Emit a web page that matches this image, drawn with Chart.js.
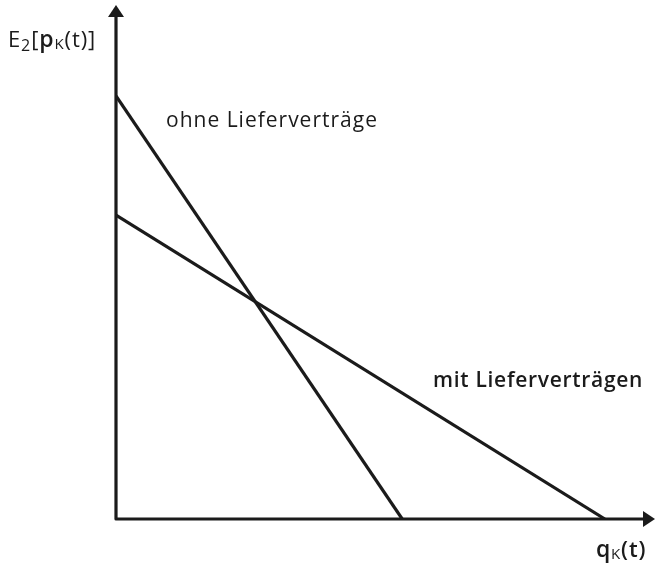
<!DOCTYPE html>
<html>
<head>
<meta charset="utf-8">
<script src="https://cdn.jsdelivr.net/npm/chart.js@4/dist/chart.umd.min.js"></script>
<style>
	html, body { margin: 0; padding: 0; background: #fff; }
	#wrap { width: 655px; height: 567px; }
</style>
</head>
<body>
<div id="wrap"><canvas id="demandChart" width="655" height="567"></canvas></div>
<script>
// Two demand lines (axis units 0..10)
var ohneX = [0, 5.31];
var ohneY = [8.23, 0];
var mitX = [0, 9.07];
var mitY = [5.91, 0];

var ink = '#1b1b1b';
var font = '"Open Sans", "DejaVu Sans", sans-serif';

function toPoints(xs, ys) {
	return xs.map(function (x, i) { return { x: x, y: ys[i] }; });
}

// draws a list of text runs one after another
function drawRuns(ctx, runs, x, y, spacing) {
	ctx.letterSpacing = (spacing || 0) + 'px';
	runs.forEach(function (r) {
		ctx.font = (r.w || (r.bold ? 600 : 500)) + ' ' + r.size + 'px ' + font;
		ctx.fillText(r.t, x, y + (r.dy || 0));
		x += ctx.measureText(r.t).width;
	});
	ctx.letterSpacing = '0px';
}

var axesPlugin = {
	id: 'axesPlugin',
	beforeDatasetsDraw: function (chart) {
		var ctx = chart.ctx;
		var a = chart.chartArea;
		ctx.save();
		ctx.strokeStyle = ink;
		ctx.fillStyle = ink;
		ctx.lineWidth = 3.2;
		ctx.lineJoin = 'round';
		// axes
		ctx.beginPath();
		ctx.moveTo(a.left, a.top + 8);
		ctx.lineTo(a.left, a.bottom);
		ctx.lineTo(a.right - 8, a.bottom);
		ctx.stroke();
		// arrow heads
		ctx.beginPath();
		ctx.moveTo(a.left, a.top);
		ctx.lineTo(a.left - 8, a.top + 12);
		ctx.lineTo(a.left + 8, a.top + 12);
		ctx.closePath();
		ctx.fill();
		ctx.beginPath();
		ctx.moveTo(a.right, a.bottom);
		ctx.lineTo(a.right - 12, a.bottom - 8);
		ctx.lineTo(a.right - 12, a.bottom + 8);
		ctx.closePath();
		ctx.fill();
		ctx.restore();
	},
	afterDraw: function (chart) {
		var ctx = chart.ctx;
		ctx.save();
		ctx.fillStyle = ink;
		ctx.textBaseline = 'alphabetic';
		ctx.textAlign = 'left';
		drawRuns(ctx, [
			{ t: 'E', size: 22 },
			{ t: '2', size: 16, dy: 4 },
			{ t: '[', size: 22 },
			{ t: 'p', size: 23, bold: true },
			{ t: 'K', size: 15, dy: 2 },
			{ t: '(t)]', size: 22 }
		], 8, 47, 0.9);
		drawRuns(ctx, [
			{ t: 'q', size: 23, bold: true },
			{ t: 'K', size: 15, dy: 2 },
			{ t: '(t)', size: 22, bold: true }
		], 596, 557, 0.8);
		drawRuns(ctx, [{ t: 'ohne Lieferverträge', size: 21 }], 166, 127, 1);
		drawRuns(ctx, [{ t: 'mit Lieferverträgen', size: 21, bold: true }], 433, 387, 0.7);
		ctx.restore();
	}
};

new Chart(document.getElementById('demandChart'), {
	type: 'scatter',
	data: {
		datasets: [{
			label: 'ohne Lieferverträge',
			data: toPoints(ohneX, ohneY),
			showLine: true,
			borderColor: ink,
			borderWidth: 3.2,
			pointRadius: 0
		}, {
			label: 'mit Lieferverträgen',
			data: toPoints(mitX, mitY),
			showLine: true,
			borderColor: ink,
			borderWidth: 3.2,
			pointRadius: 0
		}]
	},
	options: {
		responsive: false,
		animation: false,
		layout: {
			padding: { left: 116, right: 0, top: 5, bottom: 48 }
		},
		scales: {
			x: { type: 'linear', min: 0, max: 10, display: false },
			y: { type: 'linear', min: 0, max: 10, display: false }
		},
		plugins: {
			legend: { display: false },
			tooltip: { enabled: false }
		}
	},
	plugins: [axesPlugin]
});
</script>
</body>
</html>
